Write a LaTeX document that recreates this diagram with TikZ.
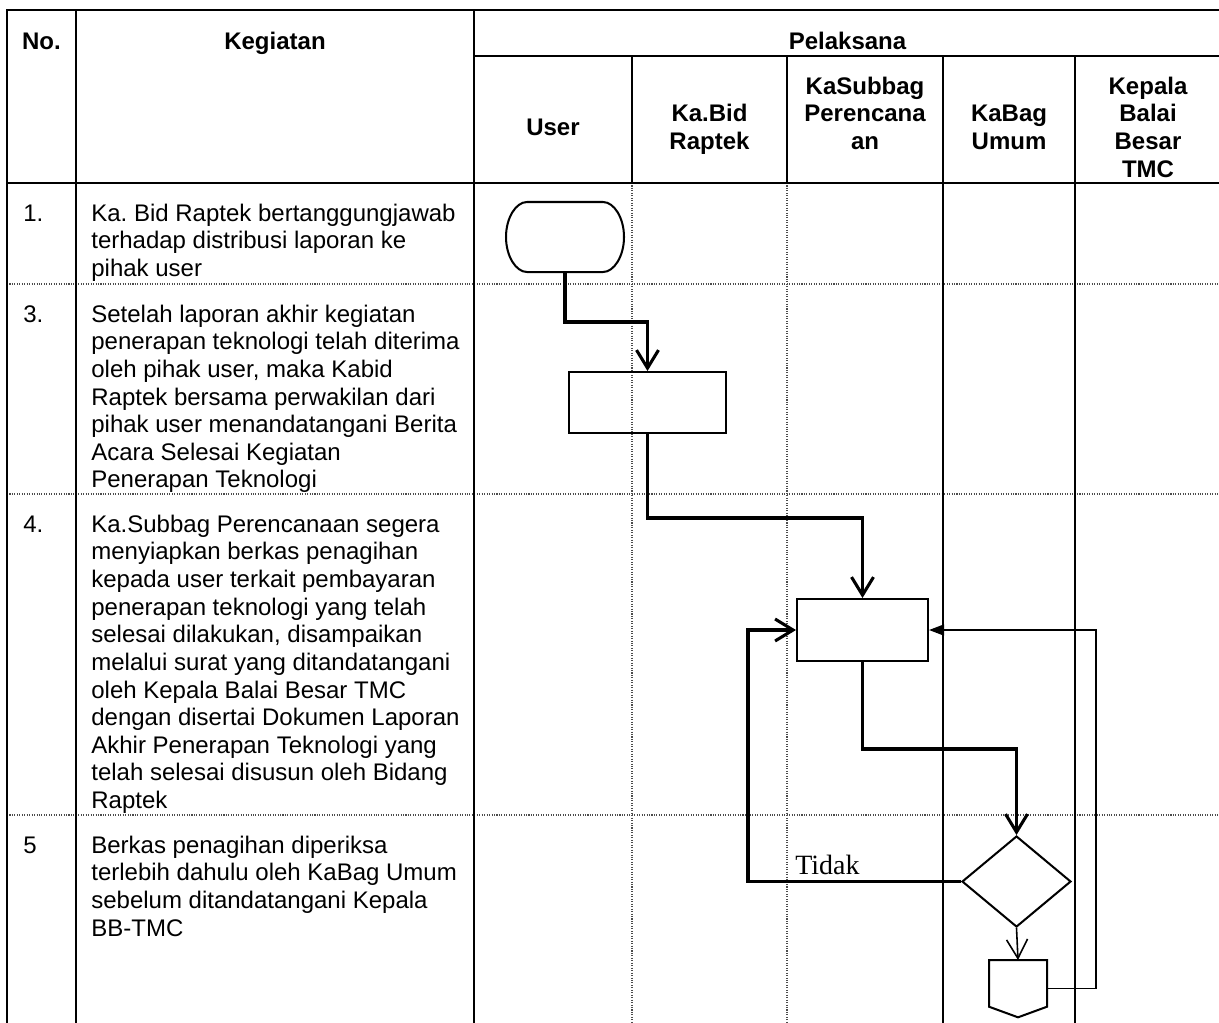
\documentclass[tikz,border=0pt]{standalone}
\usepackage{fontspec}
\setmainfont{Liberation Sans}
\newfontfamily\serifTimes{Liberation Serif}
\usetikzlibrary{arrows.meta,shapes.geometric}
\frenchspacing
\begin{document}
\begin{tikzpicture}[x=0.02cm,y=-0.02cm,
  solidline/.style={line width=1.3pt,line cap=rect},
  dotline/.style={line width=0.6pt,black!70,dash pattern=on 0.6pt off 0.8pt},
  bodytext/.style={font=\fontsize{13.66pt}{15.71pt}\selectfont,inner sep=0pt,align=left},
  headtext/.style={font=\fontsize{13.66pt}{15.71pt}\selectfont\bfseries,inner sep=0pt,align=center},
  shapeline/.style={line width=1.15pt,line join=miter},
  flowbox/.style={draw,rectangle,shapeline,inner sep=0pt},
  conn/.style={line width=1.75pt,line join=miter,-{Straight Barb[length=0.36cm,width=0.44cm]}},
  thinconn/.style={line width=0.9pt,line join=miter}
]
\fill[white] (0,0) rectangle (1219,1022);
\useasboundingbox (0,0) rectangle (1219,1022);

% ---------- table grid ----------
\draw[dotline] (7,284) -- (1219,284);
\draw[dotline] (7,494) -- (1219,494);
\draw[dotline] (7,815) -- (1219,815);
\draw[dotline] (632,183) -- (632,1022);
\draw[dotline] (787,183) -- (787,1022);
\draw[solidline] (1219,10) -- (7,10) -- (7,1022);
\draw[solidline] (76,10) -- (76,1022);
\draw[solidline] (474,10) -- (474,1022);
\draw[solidline] (474,56) -- (1219,56);
\draw[solidline] (7,183) -- (1219,183);
\draw[solidline] (632,56) -- (632,183);
\draw[solidline] (787,56) -- (787,183);
\draw[solidline] (943,56) -- (943,1022);
\draw[solidline] (1075,56) -- (1075,1022);

% ---------- header ----------
\node[headtext,anchor=base] (hno) at (41.5,49.5) {No.};
\node[headtext,anchor=base] (hkeg) at (275,49.5) {Kegiatan};
\node[headtext,anchor=base] (hpel) at (847.5,49.5) {Pelaksana};
\node[headtext,anchor=base] (huser) at (553,135.4) {User};
\node[headtext,anchor=north] (hbid) at (709.5,102.3) {\strut Ka.Bid\\Raptek};
\node[headtext,anchor=north] (hsub) at (865,74.7) {\strut KaSubbag\\Perencana\\an};
\node[headtext,anchor=north] (hbag) at (1009,102.3) {\strut KaBag\\Umum};
\node[headtext,anchor=north] (hkep) at (1148,74.7) {\strut Kepala\\Balai\\Besar\\TMC};

% ---------- rows ----------
\node[bodytext,anchor=base west] (n1) at (23,221) {1.};
\node[bodytext,anchor=north west] (t1) at (91,201.7) {\strut Ka. Bid Raptek bertanggungjawab\\terhadap distribusi laporan ke\\pihak user};
\node[bodytext,anchor=base west] (n3) at (23,322) {3.};
\node[bodytext,anchor=north west] (t3) at (91,302.7) {\strut Setelah laporan akhir kegiatan\\penerapan teknologi telah diterima\\oleh pihak user, maka Kabid\\Raptek bersama perwakilan dari\\pihak user menandatangani Berita\\Acara Selesai Kegiatan\\Penerapan Teknologi};
\node[bodytext,anchor=base west] (n4) at (23,532) {4.};
\node[bodytext,anchor=north west] (t4) at (91,512.7) {\strut Ka.Subbag Perencanaan segera\\menyiapkan berkas penagihan\\kepada user terkait pembayaran\\penerapan teknologi yang telah\\selesai dilakukan, disampaikan\\melalui surat yang ditandatangani\\oleh Kepala Balai Besar TMC\\dengan disertai Dokumen Laporan\\Akhir Penerapan Teknologi yang\\telah selesai disusun oleh Bidang\\Raptek};
\node[bodytext,anchor=base west] (n5) at (23,853) {5};
\node[bodytext,anchor=north west] (t5) at (91,833.7) {\strut Berkas penagihan diperiksa\\terlebih dahulu oleh KaBag Umum\\sebelum ditandatangani Kepala\\BB-TMC};

% ---------- flow shapes ----------
\node[minimum width=2.36cm,minimum height=1.4cm,inner sep=0pt,outer sep=0pt] (start) at (565,237) {};
\draw[shapeline] (527,202) -- (603,202)
  .. controls (614,202) and (624,217.7) .. (624,237)
  .. controls (624,256.3) and (614,272) .. (603,272)
  -- (527,272)
  .. controls (516,272) and (506,256.3) .. (506,237)
  .. controls (506,217.7) and (516,202) .. (527,202) -- cycle;
\node[flowbox,minimum width=3.14cm,minimum height=1.22cm] (box1) at (647.5,402.5) {};
\node[flowbox,minimum width=2.62cm,minimum height=1.24cm] (box2) at (862.5,630) {};
\node[draw,diamond,shapeline,inner sep=0pt,minimum width=2.18cm,minimum height=1.82cm] (dec) at (1016.5,881.5) {};
\node[minimum width=1.16cm,minimum height=1.14cm,inner sep=0pt,outer sep=0pt] (off) at (1018,988.5) {};
\draw[shapeline] (989,960) -- (1047,960) -- (1047,1006.7) -- (1018,1017.3) -- (989,1006.7) -- cycle;

% ---------- connectors ----------
\draw[conn] (start.south) -- ++(0,50) -| (box1.north);
\draw[conn] (box1.south) -- ++(0,84) -| (box2.north);
\draw[conn] (box2.south) -- ++(0,87) -| (dec.north);
\draw[conn] (dec.west) -- ++(-213,0) |- (box2.west);
\node[font=\serifTimes\fontsize{15.9pt}{18pt}\selectfont,inner sep=0pt,anchor=base west] (tidak) at (795,874) {Tidak};
\draw[thinconn,-{Straight Barb[length=0.38cm,width=0.42cm]}] (dec.south) -- (off.north);
\draw[thinconn,-{Triangle[length=0.3cm,width=0.22cm]}] (off.east) -- ++(49,0) |- (box2.east);
\end{tikzpicture}
\end{document}
